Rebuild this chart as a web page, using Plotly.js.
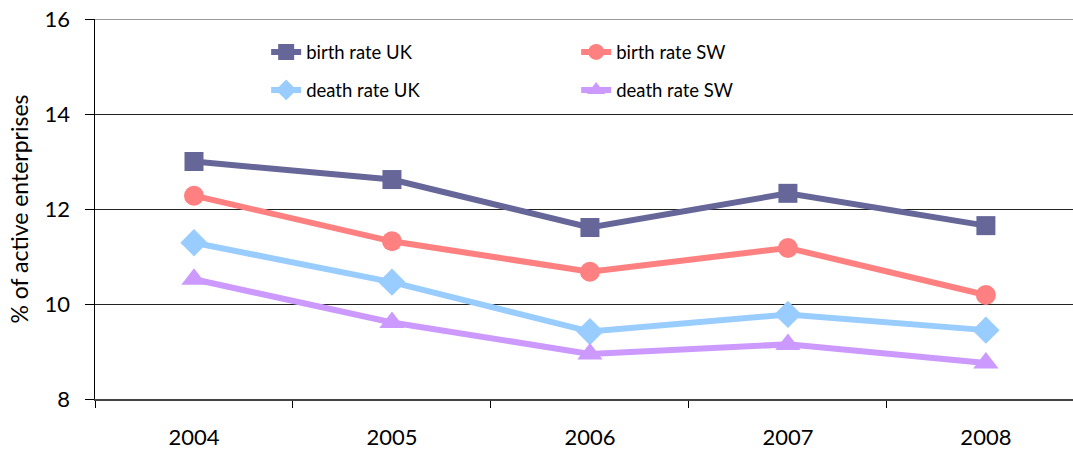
<!DOCTYPE html>
<html>
<head>
<meta charset="utf-8">
<script src="https://cdn.plot.ly/plotly-3.0.1.min.js"></script>
<style>html,body{margin:0;padding:0;background:#fff;}#chart{width:1073px;height:450px;}</style>
</head>
<body>
<div id="chart"></div>
<script>
var years = ["2004", "2005", "2006", "2007", "2008"];
var birthRateUK = [13.0, 12.62, 11.61, 12.33, 11.65];
var birthRateSW = [12.28, 11.32, 10.68, 11.18, 10.19];
var deathRateUK = [11.29, 10.46, 9.42, 9.78, 9.45];
var deathRateSW = [10.52, 9.61, 8.95, 9.15, 8.76];
var yTickVals = [8, 10, 12, 14, 16];

var FONT = "Lato, 'Liberation Sans', sans-serif";

function series(name, y, color, symbol, size, legendId) {
  return {
    type: "scatter", mode: "lines+markers", name: name, x: years, y: y,
    line: {color: color, width: 6},
    marker: {color: color, symbol: symbol, size: size},
    legend: legendId
  };
}

var data = [
  series("birth rate UK", birthRateUK, "#666699", "square", 19, "legend"),
  series("birth rate SW", birthRateSW, "#FF8080", "circle", 20, "legend2"),
  series("death rate UK", deathRateUK, "#99CCFF", "diamond", 21, "legend3"),
  series("death rate SW", deathRateSW, "#CC99FF", "triangle-up", 22, "legend4")
];

function leg(x, y) {
  return {x: x, y: y, xanchor: "left", yanchor: "middle", xref: "paper", yref: "paper",
    bgcolor: "rgba(0,0,0,0)", font: {family: FONT, size: 18.5, color: "#000"}};
}

var layout = {
  width: 1073, height: 450,
  margin: {l: 95, r: 0, t: 19, b: 51},
  paper_bgcolor: "#fff", plot_bgcolor: "#fff",
  font: {family: FONT, color: "#000"},
  xaxis: {
    type: "category", range: [-0.5, 4.44],
    showline: true, linecolor: "#444", linewidth: 1.5,
    ticks: "outside", tickson: "boundaries", ticklen: 7, tickcolor: "#000",
    showgrid: false, tickfont: {family: FONT, size: 22, color: "#000"},
    ticklabelstandoff: 18
  },
  yaxis: {
    range: [8, 16], tickvals: yTickVals, ticktext: yTickVals.map(String),
    showline: true, linecolor: "#000", linewidth: 1.5,
    ticks: "outside", ticklen: 9, tickcolor: "#000",
    showgrid: true, gridcolor: "#222", gridwidth: 1, zeroline: false,
    tickfont: {family: FONT, size: 22, color: "#000"},
    ticklabelstandoff: 10,
    title: {text: "% of active enterprises", font: {family: FONT, size: 23, color: "#000"}, standoff: 9}
  },
  shapes: [{type: "line", xref: "paper", yref: "y", x0: 0, x1: 1, y0: 16, y1: 16,
    line: {color: "#999", width: 2}}],
  legend: leg(0.175, 0.912),
  legend2: leg(0.492, 0.912),
  legend3: leg(0.175, 0.812),
  legend4: leg(0.492, 0.812),
  showlegend: true
};

Plotly.newPlot("chart", data, layout, {displayModeBar: false, staticPlot: true});
</script>
</body>
</html>
